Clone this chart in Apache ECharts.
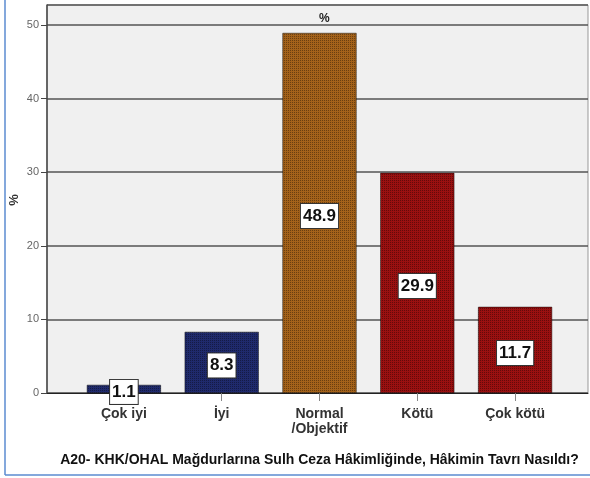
<!DOCTYPE html>
<html><head><meta charset="utf-8">
<script src="https://cdn.jsdelivr.net/npm/echarts@6/dist/echarts.min.js"></script>
<style>html,body{margin:0;padding:0;background:#fff}#c{width:590px;height:478px}</style>
</head><body><div id="c"></div>
<script>
var categories = ['Çok iyi', 'İyi', 'Normal\n/Objektif', 'Kötü', 'Çok kötü'];
var values = [1.1, 8.3, 48.9, 29.9, 11.7];
var barColors = ['#1f2a6c', '#1f2a6c', '#a4621a', '#9a1010', '#9a1010'];
var yTicks = [0, 10, 20, 30, 40, 50];
var titleText = '%';
var yName = '%';
var xTitle = 'A20- KHK/OHAL Mağdurlarına Sulh Ceza Hâkimliğinde, Hâkimin Tavrı Nasıldı?';

var chart = echarts.init(document.getElementById('c'));
var F = 'Liberation Sans, Arial, sans-serif';
var YMAX = 52.7;
var decal = {symbol: 'rect', symbolSize: 1, color: 'rgba(0,0,0,0.35)', dashArrayX: [1, 1], dashArrayY: [1, 1], rotation: 0};
chart.setOption({
  animation: false,
  backgroundColor: '#fff',
  grid: [
    {left: 47, right: 2, top: 5, bottom: 85, show: true, backgroundColor: '#f0f0f0', borderColor: '#999', borderWidth: 1, containLabel: false, outerBoundsMode: 'none'},
    {left: 75, right: 26, top: 5, bottom: 85, containLabel: false, outerBoundsMode: 'none'}
  ],
  title: {text: titleText, left: 314, top: 8, textStyle: {fontFamily: F, fontSize: 12, fontWeight: 'bold', color: '#222'}},
  graphic: [
    {type: 'line', shape: {x1: 5, y1: 0, x2: 5, y2: 475}, style: {stroke: '#5b8bd0', lineWidth: 1.5}},
    {type: 'line', shape: {x1: 5, y1: 475, x2: 590, y2: 475}, style: {stroke: '#5b8bd0', lineWidth: 1.5}},
    {type: 'text', x: 14, y: 200, rotation: Math.PI / 2,
     style: {text: yName, fontFamily: F, fontSize: 13, fontWeight: 'bold', fill: '#333', align: 'center', verticalAlign: 'middle'}}
  ],
  xAxis: [
    {gridIndex: 0, type: 'value', min: 0, max: 1, axisLine: {show: true, lineStyle: {color: '#222', width: 1}}, axisTick: {show: false}, axisLabel: {show: false}, splitLine: {show: false}},
    {gridIndex: 1, type: 'category', data: categories, axisLine: {show: false}, axisTick: {show: true, alignWithLabel: true, length: 8, lineStyle: {color: '#888'}},
     axisLabel: {fontFamily: F, fontSize: 14, fontWeight: 'bold', color: '#333', margin: 14, lineHeight: 15},
     name: xTitle, nameLocation: 'middle', nameGap: 60, nameTextStyle: {fontFamily: F, fontSize: 14, fontWeight: 'bold', color: '#111'}}
  ],
  yAxis: [
    {gridIndex: 0, type: 'value', min: 0, max: YMAX, interval: 10,
     axisLine: {show: true, lineStyle: {color: '#444', width: 1.5}},
     axisTick: {show: true, inside: false, length: 6, lineStyle: {color: '#444'}},
     axisLabel: {fontFamily: F, fontSize: 11, color: '#666', margin: 8, showMaxLabel: false,
       formatter: function (v) { return yTicks.indexOf(v) >= 0 ? String(v) : ''; }},
     splitLine: {show: true, lineStyle: {color: '#555', width: 1.5}}},
    {gridIndex: 1, type: 'value', min: 0, max: YMAX, show: false, splitLine: {show: false}}
  ],
  series: [{
    type: 'bar', xAxisIndex: 1, yAxisIndex: 1, barWidth: 74,
    data: values.map(function (v, i) { return {value: v, itemStyle: {color: barColors[i], decal: decal}}; }),
    itemStyle: {borderColor: 'rgba(0,0,0,0.5)', borderWidth: 0.5},
    label: {show: true, position: 'inside', offset: [0, 3], fontFamily: F, fontSize: 17, fontWeight: 'bold', color: '#111',
      backgroundColor: '#fff', borderColor: '#333', borderWidth: 1, padding: [4, 2, 3, 2]}
  }]
});
</script></body></html>
